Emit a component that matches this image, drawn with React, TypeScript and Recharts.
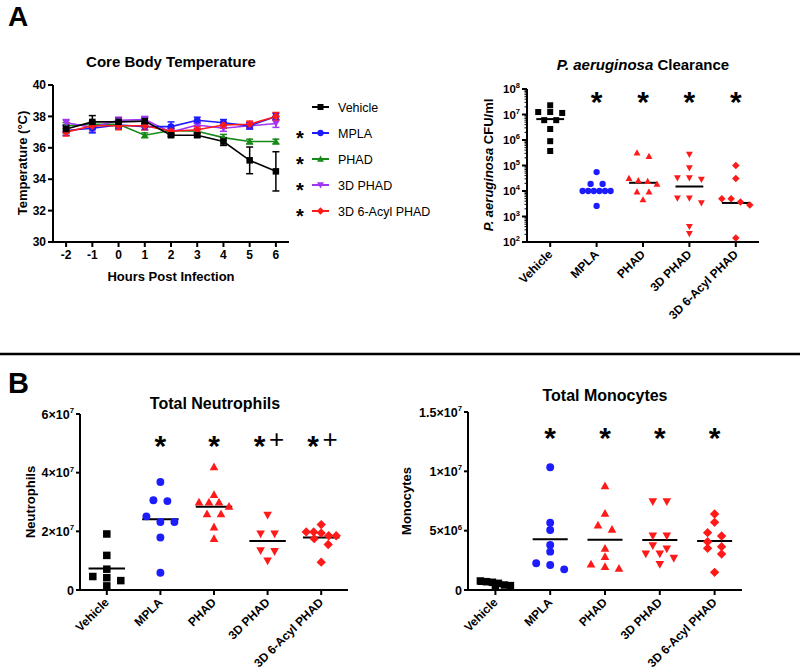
import React from 'react';
import {
  LineChart, Line, XAxis, YAxis, ErrorBar, Legend,
  ScatterChart, Scatter, ReferenceLine, ReferenceDot,
} from 'recharts';

const FONT = '"Liberation Sans", Arial, Helvetica, sans-serif';

// ---------- shared categories ----------
const groups = ['Vehicle', 'MPLA', 'PHAD', '3D PHAD', '3D 6-Acyl PHAD'];
const tempColors = ['#000000', '#1c1cff', '#168a16', '#a035f5', '#ff1a1a'];
const dotColors = ['#000000', '#1c1cff', '#ff1a1a', '#ff1a1a', '#ff1a1a'];
const markers = ['square', 'circle', 'triangle', 'triangleDown', 'diamond'];

// ---------- Panel A: core body temperature (mean, SEM) ----------
const hours = [-2, -1, 0, 1, 2, 3, 4, 5, 6];
const tempVehicle = [37.2, 37.65, 37.65, 37.7, 36.8, 36.8, 36.4, 35.2, 34.5];
const tempVehicleSem = [0.25, 0.4, 0.25, 0.2, 0.1, 0.12, 0.25, 0.85, 1.25];
const tempMPLA = [37.1, 37.25, 37.45, 37.35, 37.35, 37.75, 37.6, 37.4, 38.0];
const tempMPLASem = [0.3, 0.3, 0.2, 0.2, 0.3, 0.2, 0.2, 0.2, 0.2];
const tempPHAD = [37.4, 37.5, 37.5, 36.8, 37.1, 37.05, 36.65, 36.4, 36.4];
const tempPHADSem = [0.2, 0.2, 0.2, 0.15, 0.15, 0.15, 0.2, 0.15, 0.15];
const temp3D = [37.6, 37.3, 37.75, 37.8, 37.0, 37.45, 37.25, 37.4, 37.55];
const temp3DSem = [0.2, 0.3, 0.2, 0.2, 0.2, 0.2, 0.2, 0.2, 0.25];
const tempAcyl = [37.0, 37.4, 37.4, 37.4, 37.05, 37.15, 37.45, 37.5, 38.0];
const tempAcylSem = [0.25, 0.25, 0.25, 0.25, 0.2, 0.2, 0.2, 0.2, 0.25];
const tempYTicks = [30, 32, 34, 36, 38, 40];
const tempSig = ['', '*', '*', '*', '*'];

// ---------- Panel A: P. aeruginosa clearance (CFU/ml) ----------
const cfuVehicle = [2.3e7, 1.25e7, 1.25e7, 1.15e7, 6.0e6, 6.0e6, 2.7e6, 9.0e5, 3.7e5];
const cfuMPLA = [5.5e4, 1.9e4, 1.9e4, 1.0e4, 1.0e4, 1.0e4, 1.0e4, 1.0e4, 1.0e4, 2.6e3];
const cfuPHAD = [3.2e5, 2.3e5, 3.2e4, 2.6e4, 2.4e4, 1.9e4, 9.3e3, 9.3e3, 4.6e3];
const cfu3D = [2.7e5, 7.9e4, 3.2e4, 3.2e4, 2.8e4, 5.2e3, 5.2e3, 3.4e3, 4.0e2, 2.1e2];
const cfuAcyl = [1.0e5, 3.1e4, 5.0e3, 5.0e3, 3.7e3, 2.8e3, 1.45e2];
const cfuMedians = [6.6e6, 1.0e4, 2.1e4, 1.5e4, 3.4e3];
const cfuSig = ['', '*', '*', '*', '*'];
const cfuSigLevel = 5.8e7;

// ---------- Panel B: total neutrophils ----------
const neutVehicle = [1.91e7, 1.18e7, 0.71e7, 0.46e7, 0.42e7, 0.32e7, 0.14e7];
const neutMPLA = [3.68e7, 3.06e7, 3.03e7, 2.51e7, 2.32e7, 2.32e7, 1.79e7, 0.59e7];
const neutPHAD = [4.2e7, 3.25e7, 3.0e7, 3.0e7, 3.0e7, 2.85e7, 2.6e7, 2.6e7, 2.15e7, 1.75e7];
const neut3D = [2.55e7, 1.91e7, 1.91e7, 1.34e7, 1.31e7, 0.99e7];
const neutAcyl = [2.23e7, 1.98e7, 1.98e7, 1.94e7, 1.85e7, 1.85e7, 1.75e7, 1.55e7, 0.95e7];
const neutTicks = [0, 2e7, 4e7, 6e7];
const neutSig = ['', '*', '*', '*+', '*+'];
const neutSigLevel = 5.15e7;

// ---------- Panel B: total monocytes ----------
const monoVehicle = [0.76e6, 0.7e6, 0.65e6, 0.56e6, 0.42e6, 0.37e6, 0.14e6];
const monoMPLA = [10.34e6, 5.67e6, 5.06e6, 3.79e6, 3.23e6, 2.25e6, 2.11e6, 1.74e6];
const monoPHAD = [8.79e6, 6.46e6, 5.48e6, 5.11e6, 3.51e6, 2.81e6, 2.19e6, 1.97e6, 1.83e6];
const mono3D = [7.44e6, 7.44e6, 4.55e6, 4.55e6, 3.74e6, 3.46e6, 3.03e6, 3.03e6, 2.67e6, 2.16e6];
const monoAcyl = [6.4e6, 5.7e6, 4.83e6, 4.55e6, 4.07e6, 3.65e6, 3.51e6, 3.03e6, 1.49e6];
const monoTicks = [0, 5e6, 1e7, 1.5e7];
const monoSig = ['', '*', '*', '*', '*'];
const monoSigLevel = 1.34e7;

const mean = (a: number[]) => a.reduce((s, v) => s + v, 0) / a.length;

// ---------- helpers ----------
function Marker({ kind, cx, cy, size, fill }: { kind: string; cx: number; cy: number; size: number; fill: string }) {
  const h = size / 2;
  if (kind === 'square') return <rect x={cx - h} y={cy - h} width={size} height={size} fill={fill} />;
  if (kind === 'circle') return <circle cx={cx} cy={cy} r={h * 1.05} fill={fill} />;
  if (kind === 'triangle') {
    const a = h * 1.15;
    return <polygon points={`${cx},${cy - a} ${cx + a},${cy + a * 0.8} ${cx - a},${cy + a * 0.8}`} fill={fill} />;
  }
  if (kind === 'triangleDown') {
    const a = h * 1.15;
    return <polygon points={`${cx},${cy + a} ${cx + a},${cy - a * 0.8} ${cx - a},${cy - a * 0.8}`} fill={fill} />;
  }
  const d = h * 1.25;
  return <polygon points={`${cx},${cy - d} ${cx + d},${cy} ${cx},${cy + d} ${cx - d},${cy}`} fill={fill} />;
}

function swarmOffsets(vals: number[], toPx: (v: number) => number, collide: number, step: number, maxSpan: number): number[] {
  const order = vals.map((_, i) => i).sort((a, b) => vals[b] - vals[a]);
  const dx = new Array(vals.length).fill(0);
  let k = 0;
  while (k < order.length) {
    const start = toPx(vals[order[k]]);
    let e = k + 1;
    while (e < order.length && start - toPx(vals[order[e]]) < collide) e++;
    const row = order.slice(k, e);
    const n = row.length;
    const s = n > 1 ? Math.min(step, maxSpan / (n - 1)) : 0;
    row.forEach((idx, j) => { dx[idx] = (j - (n - 1) / 2) * s; });
    k = e;
  }
  return dx;
}

const axisStyle = { stroke: '#000', strokeWidth: 2 };

const renderCatTick = (p: any) => {
  const ax = p.x + 3;
  const ay = p.y + 6;
  return (
    <text x={ax} y={ay} transform={`rotate(-45, ${ax}, ${ay})`} textAnchor="end"
      fontSize={12} fontWeight="bold" fontFamily={FONT} fill="#000">
      {groups[p.payload.value]}
    </text>
  );
};

const sciTick = (fs: number) => (p: any) => {
  const v = p.payload.value;
  const common: any = { textAnchor: 'end', fontSize: fs, fontWeight: 'bold', fontFamily: FONT, fill: '#000' };
  if (v === 0) return <text x={p.x} y={p.y} dy="0.36em" {...common}>0</text>;
  const e = Math.floor(Math.log10(v) + 1e-9);
  const m = Math.round((v / Math.pow(10, e)) * 100) / 100;
  return (
    <text x={p.x} y={p.y} dy="0.36em" {...common}>
      {`${m}×10`}<tspan dy={-fs * 0.45} fontSize={fs * 0.62}>{e}</tspan>
    </text>
  );
};

const LOG_TICK_SIZE = 5;
const LOG_TICK_MARGIN = 2;
const logTick = (p: any) => {
  const v = p.payload.value;
  const ax = p.x + LOG_TICK_SIZE + LOG_TICK_MARGIN;
  const lg = Math.log10(v);
  const major = Math.abs(lg - Math.round(lg)) < 1e-6;
  return (
    <g>
      <line x1={ax - (major ? 5 : 2.5)} x2={ax} y1={p.y} y2={p.y} stroke="#000" strokeWidth={major ? 2 : 1} />
      {major && (
        <text x={p.x} y={p.y} dy="0.36em" textAnchor="end" fontSize={11.5} fontWeight="bold" fontFamily={FONT} fill="#000">
          10<tspan dy={-5} fontSize={7.5}>{Math.round(lg)}</tspan>
        </text>
      )}
    </g>
  );
};

function SigMark({ cx, cy, text }: { cx: number; cy: number; text: string }) {
  const hasPlus = text.includes('+');
  const sx = hasPlus ? cx - 8 : cx;
  return (
    <g fontFamily={FONT} fill="#000">
      <text x={sx} y={cy} dy={30 * 0.58} textAnchor="middle" fontSize={30} fontWeight="bold">*</text>
      {hasPlus && <text x={cx + 9} y={cy} dy={26 * 0.33} textAnchor="middle" fontSize={26}>+</text>}
    </g>
  );
}

type SwarmProps = {
  left: number; top: number; width: number; height: number;
  margin: { top: number; right: number; bottom: number; left: number };
  yWidth: number; xHeight: number;
  values: number[][]; centers: number[]; sig: string[]; sigLevel: number;
  yDomain: [number, number]; yTicks: number[]; log: boolean; yTick: any;
  size: number; collide: number; step: number; maxSpan: number; half: number;
};

function SwarmPanel(props: SwarmProps) {
  const plotH = props.height - props.margin.top - props.margin.bottom - props.xHeight;
  const [d0, d1] = props.yDomain;
  const toPx = props.log
    ? (v: number) => ((Math.log10(v) - Math.log10(d0)) / (Math.log10(d1) - Math.log10(d0))) * plotH
    : (v: number) => ((v - d0) / (d1 - d0)) * plotH;
  const series = props.values.map((vals, g) => {
    const dx = swarmOffsets(vals, toPx, props.collide, props.step, props.maxSpan);
    return vals.map((v, j) => ({ x: g, y: v, dx: dx[j] }));
  });
  return (
    <div style={{ position: 'absolute', left: props.left, top: props.top }}>
      <ScatterChart width={props.width} height={props.height} margin={props.margin}>
        <XAxis type="number" dataKey="x" domain={[-0.5, 4.5]} ticks={[0, 1, 2, 3, 4]} interval={0}
          height={props.xHeight} tickSize={5} tickMargin={2} tick={renderCatTick}
          axisLine={axisStyle} tickLine={axisStyle} allowDataOverflow />
        <YAxis type="number" dataKey="y" scale={props.log ? 'log' : 'linear'} domain={props.yDomain}
          ticks={props.yTicks} interval={0} width={props.yWidth}
          tickSize={props.log ? LOG_TICK_SIZE : 4} tickMargin={props.log ? LOG_TICK_MARGIN : 2}
          tick={props.yTick} axisLine={axisStyle} tickLine={props.log ? false : axisStyle} allowDataOverflow />
        {series.map((data, g) => (
          <Scatter key={groups[g]} name={groups[g]} data={data} isAnimationActive={false}
            shape={(p: any) => (
              <Marker kind={markers[g]} cx={p.cx + (p.payload?.dx ?? 0)} cy={p.cy} size={props.size} fill={dotColors[g]} />
            )} />
        ))}
        {props.centers.map((c, g) => (
          <ReferenceLine key={'c' + g} segment={[{ x: g - props.half, y: c }, { x: g + props.half, y: c }]}
            stroke="#000" strokeWidth={2} ifOverflow="visible" />
        ))}
        {props.sig.map((s, g) => (s ? (
          <ReferenceDot key={'s' + g} x={g} y={props.sigLevel} r={1} ifOverflow="visible"
            shape={(p: any) => <SigMark cx={p.cx} cy={p.cy} text={s} />} />
        ) : null))}
      </ScatterChart>
    </div>
  );
}

function TempLegend() {
  return (
    <svg width={150} height={130} style={{ overflow: 'visible', display: 'block' }} fontFamily={FONT}>
      {groups.map((n, i) => {
        const y = 13 + i * 26;
        return (
          <g key={n}>
            {tempSig[i] && (
              <text x={10} y={y} dy={20 * 0.58} textAnchor="middle" fontSize={20} fontWeight="bold" fill="#000">*</text>
            )}
            <line x1={22} x2={39} y1={y} y2={y} stroke={tempColors[i]} strokeWidth={2} />
            <Marker kind={markers[i]} cx={30.5} cy={y} size={6} fill={tempColors[i]} />
            <text x={48} y={y + 4.5} fontSize={12.5} fill="#000">{n}</text>
          </g>
        );
      })}
    </svg>
  );
}

const tempKeys = ['veh', 'mpla', 'phad', 'd3', 'acyl'];
const tempVals = [tempVehicle, tempMPLA, tempPHAD, temp3D, tempAcyl];
const tempSems = [tempVehicleSem, tempMPLASem, tempPHADSem, temp3DSem, tempAcylSem];
const tempRows = hours.map((h, i) => {
  const r: any = { h };
  tempKeys.forEach((k, s) => { r[k] = tempVals[s][i]; r[k + 'Err'] = tempSems[s][i]; });
  return r;
});
const drawOrder = [2, 3, 1, 4, 0];

function TempChart() {
  return (
    <div style={{ position: 'absolute', left: 0, top: 0 }}>
      <LineChart width={300} height={272} data={tempRows} margin={{ top: 85, right: 11, bottom: 0, left: 0 }}>
        <XAxis type="number" dataKey="h" domain={[-2.5, 6.5]} ticks={hours} interval={0} height={30}
          tickSize={5} tickMargin={3} axisLine={axisStyle} tickLine={axisStyle}
          tick={{ fill: '#000', fontSize: 12, fontWeight: 'bold', fontFamily: FONT }} />
        <YAxis type="number" domain={[30, 40]} ticks={tempYTicks} interval={0} width={53}
          tickSize={5} tickMargin={2} axisLine={axisStyle} tickLine={axisStyle}
          tick={{ fill: '#000', fontSize: 12, fontWeight: 'bold', fontFamily: FONT }} />
        {drawOrder.map((s) => (
          <Line key={tempKeys[s]} dataKey={tempKeys[s]} name={groups[s]} stroke={tempColors[s]} strokeWidth={1.6}
            isAnimationActive={false}
            dot={(p: any) => <Marker key={`${tempKeys[s]}${p.index}`} kind={markers[s]} cx={p.cx} cy={p.cy} size={6.5} fill={tempColors[s]} />}
            activeDot={false}>
            <ErrorBar dataKey={tempKeys[s] + 'Err'} width={3.5} stroke={tempColors[s]} strokeWidth={1.5} direction="y" />
          </Line>
        ))}
        <Legend layout="vertical" align="center" verticalAlign="middle"
          wrapperStyle={{ position: 'absolute', left: 290, top: 94, width: 150, height: 130 }}
          content={() => <TempLegend />} />
      </LineChart>
    </div>
  );
}

export default function App() {
  return (
    <div style={{ position: 'absolute', left: 0, top: 0, width: 800, height: 672, background: '#fff', overflow: 'hidden', fontFamily: FONT }}>
      <TempChart />
      <SwarmPanel left={440} top={0} width={360} height={332}
        margin={{ top: 89, right: 41, bottom: 0, left: 0 }} yWidth={87} xHeight={90}
        values={[cfuVehicle, cfuMPLA, cfuPHAD, cfu3D, cfuAcyl]} centers={cfuMedians}
        sig={cfuSig} sigLevel={cfuSigLevel} yDomain={[100, 1e8]}
        yTicks={(() => { const t: number[] = []; for (let e = 2; e <= 8; e++) { t.push(Math.pow(10, e)); if (e < 8) for (let k = 2; k <= 9; k++) t.push(k * Math.pow(10, e)); } return t; })()}
        log={true} yTick={logTick} size={6} collide={6.5} step={12} maxSpan={28} half={0.3} />
      <SwarmPanel left={0} top={370} width={370} height={300}
        margin={{ top: 44, right: 22, bottom: 0, left: 0 }} yWidth={80} xHeight={80}
        values={[neutVehicle, neutMPLA, neutPHAD, neut3D, neutAcyl]}
        centers={[neutVehicle, neutMPLA, neutPHAD, neut3D, neutAcyl].map(mean)}
        sig={neutSig} sigLevel={neutSigLevel} yDomain={[0, 6e7]} yTicks={neutTicks}
        log={false} yTick={sciTick(12.5)} size={7.5} collide={6.5} step={14} maxSpan={30} half={0.34} />
      <SwarmPanel left={390} top={370} width={370} height={300}
        margin={{ top: 42, right: 18, bottom: 0, left: 0 }} yWidth={78} xHeight={80}
        values={[monoVehicle, monoMPLA, monoPHAD, mono3D, monoAcyl]}
        centers={[monoVehicle, monoMPLA, monoPHAD, mono3D, monoAcyl].map(mean)}
        sig={monoSig} sigLevel={monoSigLevel} yDomain={[0, 1.5e7]} yTicks={monoTicks}
        log={false} yTick={sciTick(12.5)} size={7.5} collide={6.5} step={14} maxSpan={30} half={0.32} />
      <svg width={800} height={672} style={{ position: 'absolute', left: 0, top: 0, pointerEvents: 'none' }} fontFamily={FONT} fill="#000">
        <text x={8} y={26} fontSize={28} fontWeight="bold">A</text>
        <text x={8} y={393} fontSize={29} fontWeight="bold">B</text>
        <line x1={0} x2={800} y1={354} y2={354} stroke="#000" strokeWidth={2.5} />
        <text x={171} y={67} textAnchor="middle" fontSize={15} fontWeight="bold">Core Body Temperature</text>
        <text x={171} y={281} textAnchor="middle" fontSize={13} fontWeight="bold">Hours Post Infection</text>
        <text transform="translate(27,163) rotate(-90)" textAnchor="middle" fontSize={13} fontWeight="bold">Temperature (°C)</text>
        <text x={643} y={70} textAnchor="middle" fontSize={15} fontWeight="bold">
          <tspan fontStyle="italic">P. aeruginosa</tspan> Clearance
        </text>
        <text transform="translate(493,165) rotate(-90)" textAnchor="middle" fontSize={13} fontWeight="bold">
          <tspan fontStyle="italic">P. aeruginosa</tspan> CFU/ml
        </text>
        <text x={215} y={409} textAnchor="middle" fontSize={16} fontWeight="bold">Total Neutrophils</text>
        <text transform="translate(35,502) rotate(-90)" textAnchor="middle" fontSize={13} fontWeight="bold">Neutrophils</text>
        <text x={605} y={401} textAnchor="middle" fontSize={16} fontWeight="bold">Total Monocytes</text>
        <text transform="translate(411,501) rotate(-90)" textAnchor="middle" fontSize={13} fontWeight="bold">Monocytes</text>
      </svg>
    </div>
  );
}
